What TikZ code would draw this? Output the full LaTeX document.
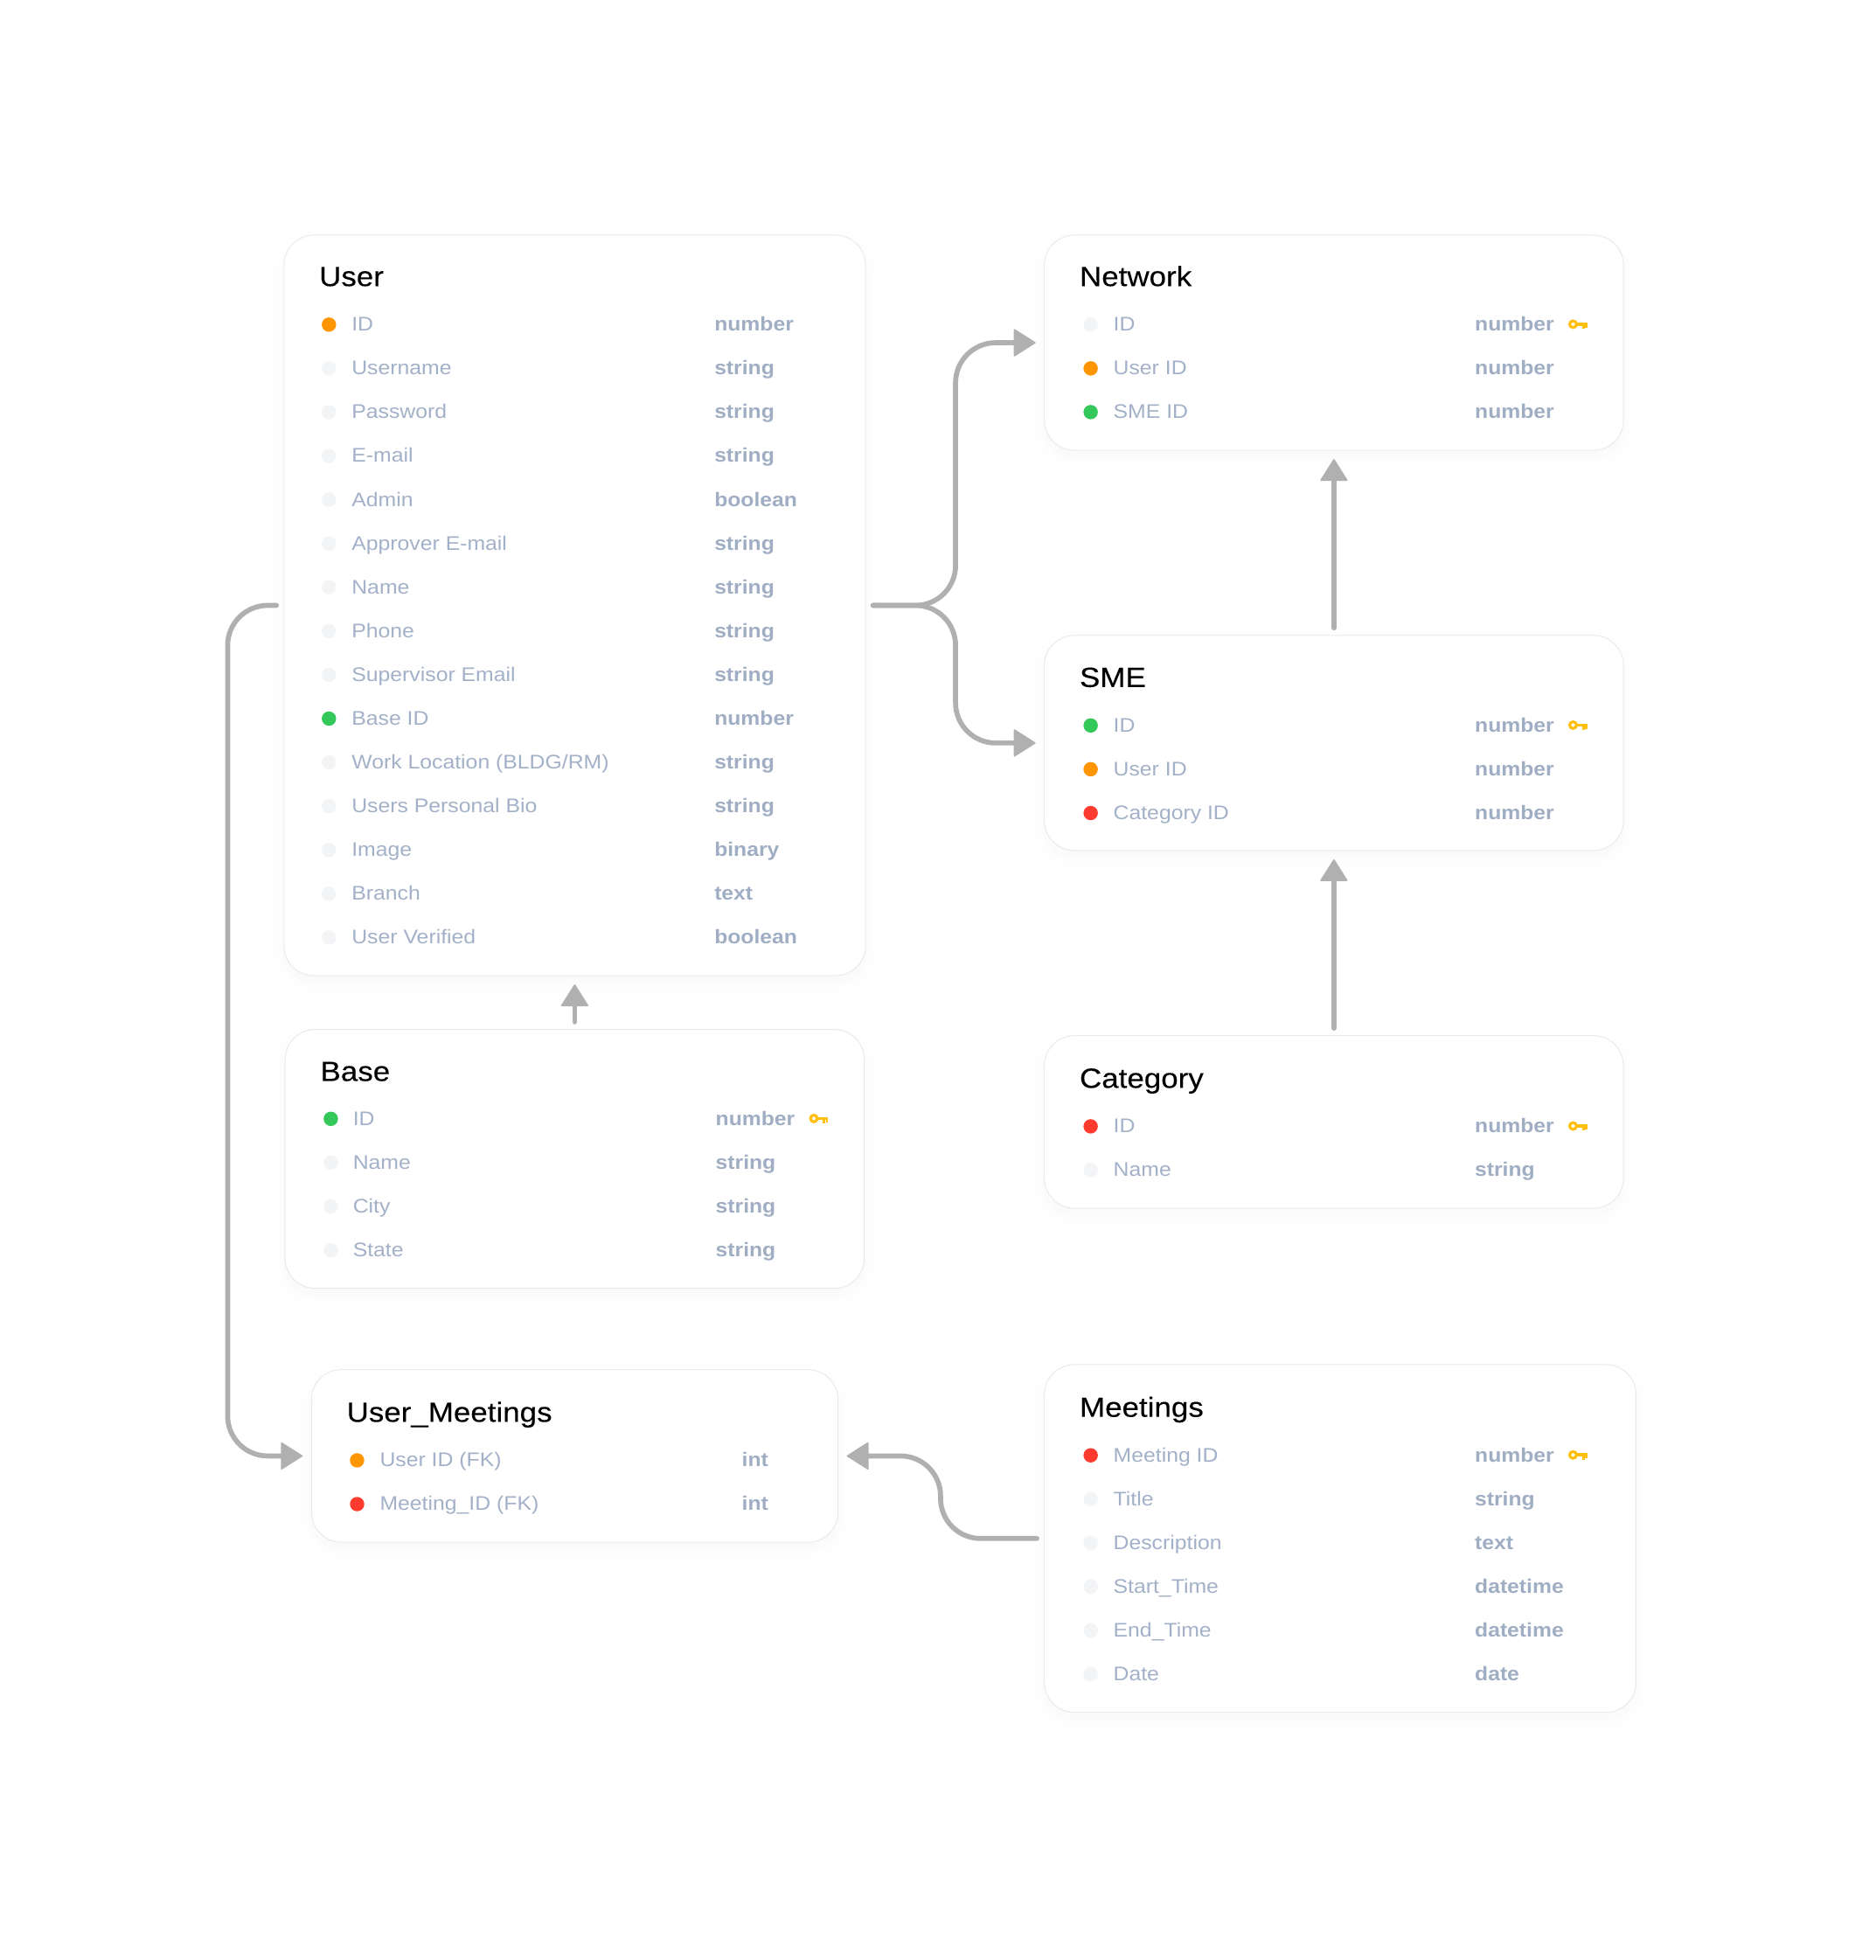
\documentclass[tikz,border=0pt]{standalone}
\usepackage{fontspec}
\setmainfont[FakeStretch=1.1]{Liberation Sans}
\newfontfamily\titlefont[FakeStretch=1.1,FakeBold=0.2]{Liberation Sans}
\usepackage{tikz}
\usetikzlibrary{arrows.meta,shadows.blur}
\definecolor{cardline}{HTML}{E8EAEE}
\definecolor{labelgrey}{HTML}{A3B1C8}
\definecolor{typegrey}{HTML}{A0AEC4}
\definecolor{linkgrey}{HTML}{B0B0B0}
\definecolor{dotnone}{HTML}{F3F4F6}
\definecolor{dotuser}{HTML}{FF9500}
\definecolor{dotbase}{HTML}{34C759}
\definecolor{dotcat}{HTML}{FF3B30}
\definecolor{keygold}{HTML}{FFBF0F}
\tikzset{
    card/.style={shape=rectangle,draw=cardline,fill=white,line width=0.7pt,rounded corners=24pt,outer sep=6pt,
        blur shadow={shadow xshift=0pt,shadow yshift=-5pt,shadow blur radius=12pt,shadow opacity=3}},
    cardtitle/.style={anchor=base west,inner sep=0pt,yshift=-7.7pt,font=\titlefont\fontsize{22.2}{26}\selectfont,text=black},
    rowlabel/.style={anchor=base west,inner sep=0pt,yshift=-5.2pt,font=\fontsize{15.75}{18}\selectfont,text=labelgrey},
    rowtype/.style={anchor=base west,inner sep=0pt,yshift=-5.2pt,font=\bfseries\fontsize{15.7}{18}\selectfont,text=typegrey},
    dot/.style={shape=circle,inner sep=0pt,minimum size=11.5pt,draw=none,fill=#1},
    link/.style={draw=linkgrey,line width=4pt,line cap=round,rounded corners=32pt,shorten >=1pt,
        -{Triangle[length=18pt,width=22.5pt,round,line width=1.2pt]}},
    keyicon/.pic={
        \draw[keygold,line width=2.2pt] (-4.3,-0.3) circle (2.7pt);
        \fill[keygold] (-1.5,-1.6) rectangle (7,0.9);
        \fill[keygold] (3,0) rectangle (4.8,3.4);
        \fill[keygold] (5.4,0) rectangle (7,2.6);
    }
}
\begin{document}
\begin{tikzpicture}[x=1pt,y=-1pt]
    \useasboundingbox (0,0) rectangle (1499.9,1567);
    % cards
    \node[card,minimum width=465pt,minimum height=592pt] (user) at (459.5,484) {};
    \node[card,minimum width=463pt,minimum height=172pt] (network) at (1066.5,274) {};
    \node[card,minimum width=463pt,minimum height=172pt] (sme) at (1066.5,594) {};
    \node[card,minimum width=463pt,minimum height=138pt] (category) at (1066.5,897) {};
    \node[card,minimum width=463pt,minimum height=207pt] (base) at (459.5,926.5) {};
    \node[card,minimum width=421pt,minimum height=138pt] (usermeet) at (459.5,1164) {};
    \node[card,minimum width=473pt,minimum height=278pt] (meetings) at (1071.5,1230) {};
    % user
    \node[cardtitle] (userT) at (255,221) {User};
    \node[dot=dotuser] (user1) at (263,259.5) {};
    \node[rowlabel] (user1L) at (281,259.5) {ID};
    \node[rowtype] (user1R) at (571,259.5) {number};
    \node[dot=dotnone] (user2) at (263,294.5) {};
    \node[rowlabel] (user2L) at (281,294.5) {Username};
    \node[rowtype] (user2R) at (571,294.5) {string};
    \node[dot=dotnone] (user3) at (263,329.5) {};
    \node[rowlabel] (user3L) at (281,329.5) {Password};
    \node[rowtype] (user3R) at (571,329.5) {string};
    \node[dot=dotnone] (user4) at (263,364.5) {};
    \node[rowlabel] (user4L) at (281,364.5) {E-mail};
    \node[rowtype] (user4R) at (571,364.5) {string};
    \node[dot=dotnone] (user5) at (263,399.5) {};
    \node[rowlabel] (user5L) at (281,399.5) {Admin};
    \node[rowtype] (user5R) at (571,399.5) {boolean};
    \node[dot=dotnone] (user6) at (263,434.5) {};
    \node[rowlabel] (user6L) at (281,434.5) {Approver E-mail};
    \node[rowtype] (user6R) at (571,434.5) {string};
    \node[dot=dotnone] (user7) at (263,469.5) {};
    \node[rowlabel] (user7L) at (281,469.5) {Name};
    \node[rowtype] (user7R) at (571,469.5) {string};
    \node[dot=dotnone] (user8) at (263,504.5) {};
    \node[rowlabel] (user8L) at (281,504.5) {Phone};
    \node[rowtype] (user8R) at (571,504.5) {string};
    \node[dot=dotnone] (user9) at (263,539.5) {};
    \node[rowlabel] (user9L) at (281,539.5) {Supervisor Email};
    \node[rowtype] (user9R) at (571,539.5) {string};
    \node[dot=dotbase] (user10) at (263,574.5) {};
    \node[rowlabel] (user10L) at (281,574.5) {Base ID};
    \node[rowtype] (user10R) at (571,574.5) {number};
    \node[dot=dotnone] (user11) at (263,609.5) {};
    \node[rowlabel] (user11L) at (281,609.5) {Work Location (BLDG/RM)};
    \node[rowtype] (user11R) at (571,609.5) {string};
    \node[dot=dotnone] (user12) at (263,644.5) {};
    \node[rowlabel] (user12L) at (281,644.5) {Users Personal Bio};
    \node[rowtype] (user12R) at (571,644.5) {string};
    \node[dot=dotnone] (user13) at (263,679.5) {};
    \node[rowlabel] (user13L) at (281,679.5) {Image};
    \node[rowtype] (user13R) at (571,679.5) {binary};
    \node[dot=dotnone] (user14) at (263,714.5) {};
    \node[rowlabel] (user14L) at (281,714.5) {Branch};
    \node[rowtype] (user14R) at (571,714.5) {text};
    \node[dot=dotnone] (user15) at (263,749.5) {};
    \node[rowlabel] (user15L) at (281,749.5) {User Verified};
    \node[rowtype] (user15R) at (571,749.5) {boolean};
    % network
    \node[cardtitle] (networkT) at (863,221) {Network};
    \node[dot=dotnone] (network1) at (872,259.5) {};
    \node[rowlabel] (network1L) at (890,259.5) {ID};
    \node[rowtype] (network1R) at (1179,259.5) {number};
    \pic at (1262,259.5) {keyicon};
    \node[dot=dotuser] (network2) at (872,294.5) {};
    \node[rowlabel] (network2L) at (890,294.5) {User ID};
    \node[rowtype] (network2R) at (1179,294.5) {number};
    \node[dot=dotbase] (network3) at (872,329.5) {};
    \node[rowlabel] (network3L) at (890,329.5) {SME ID};
    \node[rowtype] (network3R) at (1179,329.5) {number};
    % sme
    \node[cardtitle] (smeT) at (863,541.5) {SME};
    \node[dot=dotbase] (sme1) at (872,580) {};
    \node[rowlabel] (sme1L) at (890,580) {ID};
    \node[rowtype] (sme1R) at (1179,580) {number};
    \pic at (1262,580) {keyicon};
    \node[dot=dotuser] (sme2) at (872,615) {};
    \node[rowlabel] (sme2L) at (890,615) {User ID};
    \node[rowtype] (sme2R) at (1179,615) {number};
    \node[dot=dotcat] (sme3) at (872,650) {};
    \node[rowlabel] (sme3L) at (890,650) {Category ID};
    \node[rowtype] (sme3R) at (1179,650) {number};
    % category
    \node[cardtitle] (categoryT) at (863,862) {Category};
    \node[dot=dotcat] (category1) at (872,900.5) {};
    \node[rowlabel] (category1L) at (890,900.5) {ID};
    \node[rowtype] (category1R) at (1179,900.5) {number};
    \pic at (1262,900.5) {keyicon};
    \node[dot=dotnone] (category2) at (872,935.5) {};
    \node[rowlabel] (category2L) at (890,935.5) {Name};
    \node[rowtype] (category2R) at (1179,935.5) {string};
    % base
    \node[cardtitle] (baseT) at (256,856.5) {Base};
    \node[dot=dotbase] (base1) at (264.5,894.5) {};
    \node[rowlabel] (base1L) at (282,894.5) {ID};
    \node[rowtype] (base1R) at (572,894.5) {number};
    \pic at (655,894.5) {keyicon};
    \node[dot=dotnone] (base2) at (264.5,929.5) {};
    \node[rowlabel] (base2L) at (282,929.5) {Name};
    \node[rowtype] (base2R) at (572,929.5) {string};
    \node[dot=dotnone] (base3) at (264.5,964.5) {};
    \node[rowlabel] (base3L) at (282,964.5) {City};
    \node[rowtype] (base3R) at (572,964.5) {string};
    \node[dot=dotnone] (base4) at (264.5,999.5) {};
    \node[rowlabel] (base4L) at (282,999.5) {State};
    \node[rowtype] (base4R) at (572,999.5) {string};
    % user meetings
    \node[cardtitle] (usermeetT) at (277,1129) {User\_Meetings};
    \node[dot=dotuser] (usermeet1) at (285.5,1167.5) {};
    \node[rowlabel] (usermeet1L) at (303.5,1167.5) {User ID (FK)};
    \node[rowtype] (usermeet1R) at (593,1167.5) {int};
    \node[dot=dotcat] (usermeet2) at (285.5,1202.5) {};
    \node[rowlabel] (usermeet2L) at (303.5,1202.5) {Meeting\_ID (FK)};
    \node[rowtype] (usermeet2R) at (593,1202.5) {int};
    % meetings
    \node[cardtitle] (meetingsT) at (863,1125) {Meetings};
    \node[dot=dotcat] (meetings1) at (872,1163.5) {};
    \node[rowlabel] (meetings1L) at (890,1163.5) {Meeting ID};
    \node[rowtype] (meetings1R) at (1179,1163.5) {number};
    \pic at (1262,1163.5) {keyicon};
    \node[dot=dotnone] (meetings2) at (872,1198.5) {};
    \node[rowlabel] (meetings2L) at (890,1198.5) {Title};
    \node[rowtype] (meetings2R) at (1179,1198.5) {string};
    \node[dot=dotnone] (meetings3) at (872,1233.5) {};
    \node[rowlabel] (meetings3L) at (890,1233.5) {Description};
    \node[rowtype] (meetings3R) at (1179,1233.5) {text};
    \node[dot=dotnone] (meetings4) at (872,1268.5) {};
    \node[rowlabel] (meetings4L) at (890,1268.5) {Start\_Time};
    \node[rowtype] (meetings4R) at (1179,1268.5) {datetime};
    \node[dot=dotnone] (meetings5) at (872,1303.5) {};
    \node[rowlabel] (meetings5L) at (890,1303.5) {End\_Time};
    \node[rowtype] (meetings5R) at (1179,1303.5) {datetime};
    \node[dot=dotnone] (meetings6) at (872,1338.5) {};
    \node[rowlabel] (meetings6L) at (890,1338.5) {Date};
    \node[rowtype] (meetings6R) at (1179,1338.5) {date};
    % connectors
    \coordinate (split) at (764,484);
    \coordinate (leftbend) at (182,484);
    \coordinate (meetbend) at (752,1230);
    \path [link](user.east) -- (split) |- (network.west);
    \path [link](user.east) -- (split) |- (sme.west);
    \path [link](user.west) -- (leftbend) |- (usermeet.west);
    \path [link](meetings.west) -- (meetbend) |- (usermeet.east);
    \path [link](sme.north) -- (network.south);
    \path [link](category.north) -- (sme.south);
    \path [link](base.north) -- (user.south);
\end{tikzpicture}
\end{document}
